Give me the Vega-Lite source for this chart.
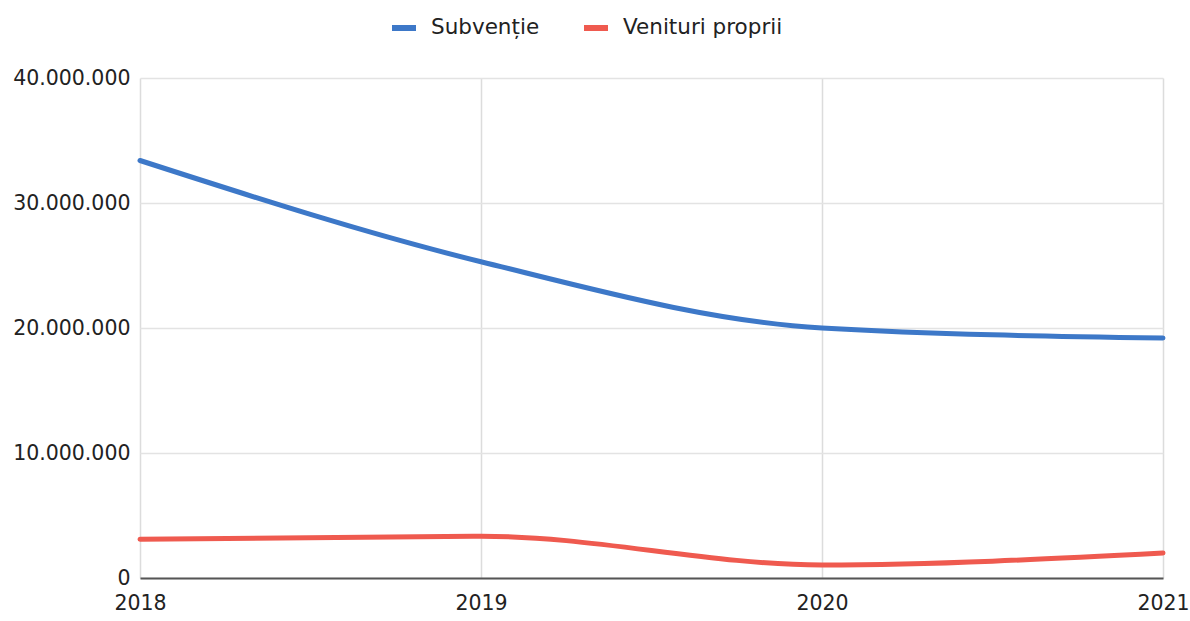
{
  "$schema": "https://vega.github.io/schema/vega-lite/v6.json",
  "width": 1023,
  "height": 500,
  "autosize": "none",
  "padding": {"left": 140, "top": 78, "right": 27, "bottom": 43},
  "background": "white",
  "config": {
    "font": "DejaVu Sans",
    "view": {"stroke": null}
  },
  "data": {
    "values": [
      {"an": 2018, "serie": "Subvenție", "valoare": 33400000},
      {"an": 2019, "serie": "Subvenție", "valoare": 25300000},
      {"an": 2020, "serie": "Subvenție", "valoare": 20000000},
      {"an": 2021, "serie": "Subvenție", "valoare": 19200000},
      {"an": 2018, "serie": "Venituri proprii", "valoare": 3100000},
      {"an": 2019, "serie": "Venituri proprii", "valoare": 3350000},
      {"an": 2020, "serie": "Venituri proprii", "valoare": 1050000},
      {"an": 2021, "serie": "Venituri proprii", "valoare": 2000000}
    ]
  },
  "mark": {"type": "line", "interpolate": "monotone", "strokeWidth": 5, "strokeCap": "round"},
  "encoding": {
    "x": {
      "field": "an",
      "type": "quantitative",
      "scale": {"domain": [2018, 2021], "nice": false, "zero": false},
      "axis": {
        "title": null,
        "values": [2018, 2019, 2020, 2021],
        "format": "d",
        "labelFontSize": 20.5,
        "labelColor": "#222",
        "labelPadding": 15,
        "ticks": false,
        "domainColor": "#555",
        "domainWidth": 2,
        "gridColor": "#dcdcdc",
        "gridWidth": 1.5,
        "labelFlush": false
      }
    },
    "y": {
      "field": "valoare",
      "type": "quantitative",
      "scale": {"domain": [0, 40000000], "nice": false},
      "axis": {
        "title": null,
        "values": [0, 10000000, 20000000, 30000000, 40000000],
        "labelExpr": "replace(format(datum.value, ','), /,/g, '.')",
        "labelFontSize": 20.5,
        "labelColor": "#222",
        "labelPadding": 10,
        "ticks": false,
        "domain": false,
        "gridColor": "#e3e3e3",
        "gridWidth": 1.5
      }
    },
    "color": {
      "field": "serie",
      "type": "nominal",
      "scale": {"domain": ["Subvenție", "Venituri proprii"], "range": ["#3d78c8", "#ef5a4f"]},
      "legend": {
        "title": null,
        "orient": "none",
        "direction": "horizontal",
        "legendX": 249,
        "legendY": -65,
        "labelFontSize": 21.5,
        "labelColor": "#222",
        "symbolType": "stroke",
        "symbolSize": 576,
        "symbolStrokeWidth": 6,
        "columnPadding": 32,
        "labelOffset": 12
      }
    }
  }
}
